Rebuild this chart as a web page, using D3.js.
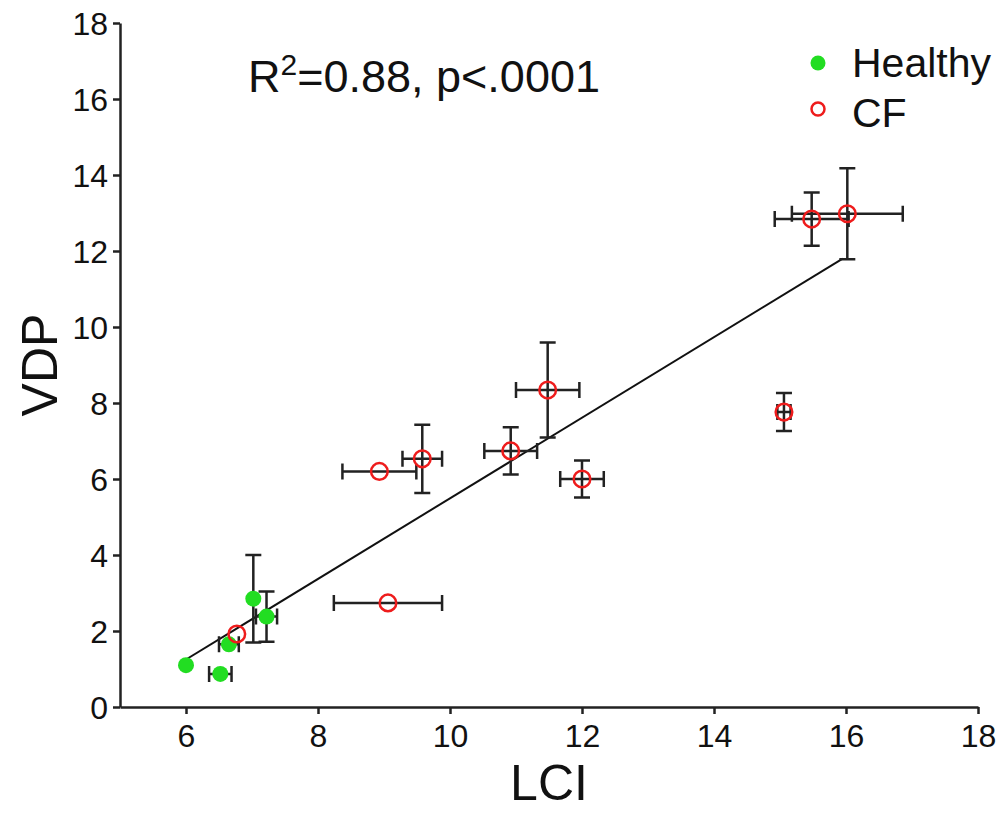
<!DOCTYPE html>
<html>
<head>
<meta charset="utf-8">
<script src="https://cdn.jsdelivr.net/npm/d3@7"></script>
<style>
    body { margin: 0; background: #fff; }
    svg { display: block; font-family: "Liberation Sans", Arial, sans-serif; }
</style>
</head>
<body>
<div id="chart"><svg></svg></div>
<script>
// healthy subjects: LCI, VDP and +/- errors
var healthyLCI = [6.0, 6.52, 6.65, 7.02, 7.22];
var healthyVDP = [1.1, 0.87, 1.65, 2.85, 2.38];
var healthyLCIErr = [0, 0.17, 0.15, 0, 0.16];
var healthyVDPErr = [0, 0, 0, 1.15, 0.66];

// CF patients
var cfLCI = [6.77, 8.93, 9.58, 9.06, 10.92, 11.48, 12.0, 15.06, 15.48, 16.02];
var cfVDP = [1.92, 6.2, 6.53, 2.74, 6.74, 8.34, 6.0, 7.76, 12.84, 12.98];
var cfLCIErr = [0, 0.56, 0.3, 0.82, 0.4, 0.48, 0.33, 0.1, 0.56, 0.84];
var cfVDPErr = [0, 0, 0.9, 0, 0.62, 1.25, 0.49, 0.5, 0.7, 1.2];

// regression line end points
var fitLCI = [6.0, 15.95];
var fitVDP = [1.25, 11.8];

var xTicks = [6, 8, 10, 12, 14, 16, 18];
var yTicks = [0, 2, 4, 6, 8, 10, 12, 14, 16, 18];
var legendLabels = ["Healthy", "CF"];

var width = 1006,
    height = 817,
    green = "#22dd22",
    red = "#ee1c1c";

var svg = d3.select("#chart svg")
    .attr("width", width)
    .attr("height", height);

var x = d3.scaleLinear().domain([5, 18]).range([120, 978]);
var y = d3.scaleLinear().domain([0, 18]).range([707, 23]);

function rows(xs, ys, xe, ye) {
    return xs.map(function(v, i) {
        return { x: v, y: ys[i], xe: xe[i], ye: ye[i] };
    });
}
var healthy = rows(healthyLCI, healthyVDP, healthyLCIErr, healthyVDPErr);
var cf = rows(cfLCI, cfVDP, cfLCIErr, cfVDPErr);

// axes
var xAxis = svg.append("g")
    .attr("transform", "translate(0," + y(0) + ")")
    .call(d3.axisBottom(x).tickValues(xTicks).tickSize(7).tickSizeOuter(0).tickPadding(10));
var yAxis = svg.append("g")
    .attr("transform", "translate(" + x(5) + ",0)")
    .call(d3.axisLeft(y).tickValues(yTicks).tickSize(7).tickSizeOuter(0).tickPadding(5));

[xAxis, yAxis].forEach(function(a) {
    a.select(".domain").attr("stroke", "#222").attr("stroke-width", 2.5);
    a.selectAll(".tick line").attr("stroke", "#222").attr("stroke-width", 2.5);
    a.selectAll(".tick text")
        .attr("fill", "#111")
        .style("font-size", "32px")
        .style("font-family", "'Liberation Sans', Arial, sans-serif");
});
yAxis.selectAll(".tick text").attr("dy", "0.36em");

// axis titles
svg.append("text")
    .attr("x", x(11.5))
    .attr("y", 800)
    .attr("text-anchor", "middle")
    .style("font-size", "50px")
    .attr("fill", "#111")
    .text("LCI");
svg.append("text")
    .attr("transform", "translate(57," + y(9) + ") rotate(-90)")
    .attr("text-anchor", "middle")
    .style("font-size", "50px")
    .attr("fill", "#111")
    .text("VDP");

// regression line
svg.append("line")
    .attr("x1", x(fitLCI[0])).attr("y1", y(fitVDP[0]))
    .attr("x2", x(fitLCI[1])).attr("y2", y(fitVDP[1]))
    .attr("stroke", "#111")
    .attr("stroke-width", 2);

// error bars
function errorBars(data) {
    var cap = 8;
    var g = svg.append("g")
        .attr("stroke", "#222")
        .attr("stroke-width", 2.5)
        .attr("fill", "none");
    var h = data.filter(function(d) { return d.xe > 0; });
    var v = data.filter(function(d) { return d.ye > 0; });
    g.selectAll(null).data(h).enter().append("path")
        .attr("d", function(d) {
            var x0 = x(d.x - d.xe), x1 = x(d.x + d.xe), yy = y(d.y);
            return "M" + x0 + "," + yy + "H" + x1 +
                "M" + x0 + "," + (yy - cap) + "V" + (yy + cap) +
                "M" + x1 + "," + (yy - cap) + "V" + (yy + cap);
        });
    g.selectAll(null).data(v).enter().append("path")
        .attr("d", function(d) {
            var y0 = y(d.y - d.ye), y1 = y(d.y + d.ye), xx = x(d.x);
            return "M" + xx + "," + y0 + "V" + y1 +
                "M" + (xx - cap) + "," + y0 + "H" + (xx + cap) +
                "M" + (xx - cap) + "," + y1 + "H" + (xx + cap);
        });
}
errorBars(healthy);
errorBars(cf);

// points
svg.append("g").selectAll("circle")
    .data(healthy)
    .enter()
        .append("circle")
            .attr("cx", function(d) { return x(d.x); })
            .attr("cy", function(d) { return y(d.y); })
            .attr("r", 8)
            .style("fill", green);

svg.append("g").selectAll("circle")
    .data(cf)
    .enter()
        .append("circle")
            .attr("cx", function(d) { return x(d.x); })
            .attr("cy", function(d) { return y(d.y); })
            .attr("r", 8.3)
            .style("fill", "none")
            .style("stroke", red)
            .style("stroke-width", 2.5);

// annotation
var ann = svg.append("text")
    .attr("x", 248)
    .attr("y", 92)
    .style("font-size", "45px")
    .attr("fill", "#111");
ann.append("tspan").text("R");
ann.append("tspan").attr("dy", -17).style("font-size", "30px").text("2");
ann.append("tspan").attr("dy", 17).text("=0.88, p<.0001");

// legend
var legend = svg.append("g");
legend.append("circle")
    .attr("cx", 818).attr("cy", 63).attr("r", 7.5)
    .style("fill", green);
legend.append("circle")
    .attr("cx", 818).attr("cy", 109).attr("r", 6.5)
    .style("fill", "none")
    .style("stroke", red)
    .style("stroke-width", 2.5);
legend.selectAll("text")
    .data(legendLabels)
    .enter()
        .append("text")
            .attr("x", 852)
            .attr("y", function(d, i) { return 77 + i * 50; })
            .style("font-size", "41px")
            .attr("fill", "#111")
            .text(function(d) { return d; });
</script>
</body>
</html>
